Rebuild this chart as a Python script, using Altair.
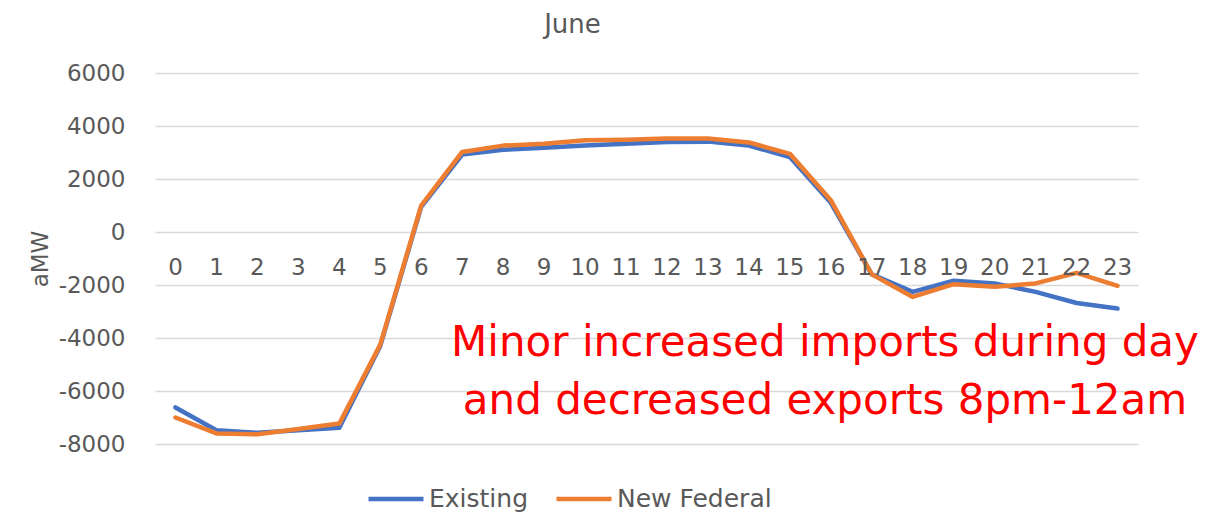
import altair as alt
import pandas as pd

hours = list(range(24))
hour_labels = [str(h) for h in hours]
existing = [-6620, -7480, -7580, -7480, -7390, -4300, 950, 2920, 3100, 3180, 3260, 3330,
            3400, 3410, 3260, 2830, 1100, -1600, -2260, -1840, -1940, -2260, -2680, -2890]
new_federal = [-7000, -7600, -7630, -7430, -7230, -4250, 1000, 3020, 3260, 3330, 3460, 3480,
               3530, 3530, 3380, 2950, 1200, -1600, -2450, -1970, -2070, -1940, -1540, -2030]
series_names = ["Existing", "New Federal"]
series_colors = ["#4472C4", "#ED7D31"]
y_ticks = [-8000, -6000, -4000, -2000, 0, 2000, 4000, 6000]
annotation_lines = ["Minor increased imports during day", "and decreased exports 8pm-12am"]

rows = []
for name, vals in zip(series_names, [existing, new_federal]):
    for h, lab, v in zip(hours, hour_labels, vals):
        rows.append({"hour": lab, "series": name, "value": v})
df = pd.DataFrame(rows)
labels_df = pd.DataFrame({"hour": hour_labels})

FONT = "DejaVu Sans"
GRAY = "#595959"

xscale = alt.Scale(type="point", domain=hour_labels, padding=0.5)
yscale = alt.Scale(domain=[-8000, 6000], nice=False, zero=False)

lines = alt.Chart(df).mark_line(strokeWidth=4.5, strokeCap="round", strokeJoin="round").encode(
    x=alt.X("hour:O", scale=xscale, sort=hour_labels, axis=None),
    y=alt.Y("value:Q", scale=yscale,
            axis=alt.Axis(values=y_ticks, title="aMW", domain=False, ticks=False,
                          labelExpr="datum.value < 0 ? '-' + abs(datum.value) : '' + datum.value",
                          grid=True, gridColor="#D9D9D9", gridWidth=1.5,
                          labelPadding=30, labelFontSize=23, labelFont=FONT, labelColor=GRAY,
                          titleFontSize=23, titleFont=FONT, titleColor=GRAY,
                          titleFontWeight="normal", titlePadding=6)),
    color=alt.Color("series:N", scale=alt.Scale(domain=series_names, range=series_colors),
                    legend=alt.Legend(title=None, orient="none", direction="horizontal",
                                      legendX=211, legendY=396,
                                      symbolType="stroke", symbolSize=3025, symbolStrokeWidth=4.5,
                                      labelFontSize=25, labelFont=FONT, labelColor=GRAY,
                                      labelOffset=3, columnPadding=18)),
)

xlabels = alt.Chart(labels_df).mark_text(
    dy=36, fontSize=23, font=FONT, color=GRAY
).encode(
    x=alt.X("hour:O", scale=xscale, sort=hour_labels, axis=None),
    y=alt.datum(0),
    text="hour:N",
)

annot = alt.Chart(alt.Data(values=[{"k": 1}])).mark_text(
    text=annotation_lines, fontSize=42, font=FONT, color="#FF0000",
    lineHeight=58, align="center", baseline="middle"
).encode(
    x=alt.value(670),
    y=alt.value(270),
)

chart = alt.layer(lines, xlabels, annot).properties(
    width=983, height=371,
    title=alt.TitleParams("June", fontSize=26, font=FONT, color=GRAY, fontWeight="normal",
                          dx=-74, offset=24),
    padding={"left": 147, "top": 65, "right": 70, "bottom": 77},
    autosize=alt.AutoSizeParams(type="none"),
    background="white",
).configure_view(stroke=None)

chart.save("out.html", embed_options={"renderer": "svg", "actions": False})
